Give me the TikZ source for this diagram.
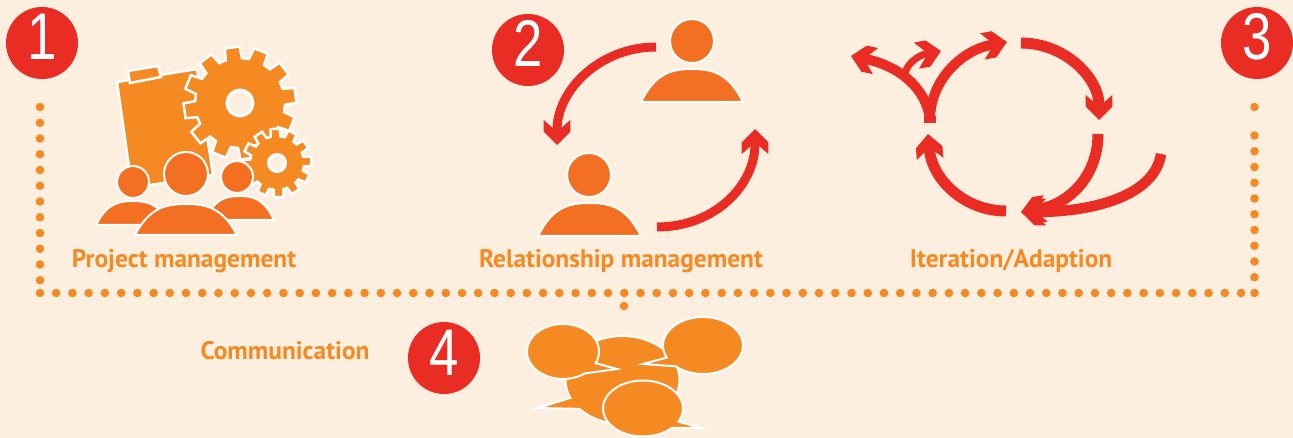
\documentclass[tikz,border=0pt]{standalone}
\usepackage{fontspec}
\setmainfont{PT Sans}
\newfontfamily\numfont[FakeStretch=0.8]{Liberation Sans}
\usetikzlibrary{arrows.meta}
\definecolor{bgc}{HTML}{FDEFE0}
\definecolor{redc}{HTML}{E92D24}
\definecolor{orc}{HTML}{F68A22}
\definecolor{perc}{HTML}{F36F21}
\pgfdeclarearrow{
  name=Chev,
  setup code={\pgfarrowssettipend{0pt}\pgfarrowssetlineend{-15pt}\pgfarrowssetvisualbackend{-25pt}},
  drawing code={
    \pgfpathmoveto{\pgfpoint{0pt}{0pt}}
    \pgfpathlineto{\pgfpoint{-13.3pt}{13.3pt}}
    \pgfpathlineto{\pgfpoint{-25pt}{13.3pt}}
    \pgfpathlineto{\pgfpoint{-16pt}{3pt}}
    \pgfpathlineto{\pgfpoint{-16pt}{-3pt}}
    \pgfpathlineto{\pgfpoint{-25pt}{-13.3pt}}
    \pgfpathlineto{\pgfpoint{-13.3pt}{-13.3pt}}
    \pgfpathclose
    \pgfusepathqfill
  }
}
\tikzset{
  numdisc/.style={circle,fill=redc,minimum size=72pt,inner sep=0pt,text=white,text height=40pt,text depth=6pt,font=\numfont\fontsize{66}{66}\selectfont},
  lab/.style={text=orc,font=\bfseries\fontsize{25.4}{27}\selectfont,inner sep=0pt,anchor=base},
  dots/.style={draw=orc,line width=8.6pt,line cap=round,dash pattern=on 0pt off #1},
  dots/.default=16.23pt,
  rarrow/.style={draw=redc,line width=9pt,-{Chev[scale=1]}},
  carrow/.style={draw=redc,line width=#1,-{Chev[scale=.74]}},
  carrow/.default=11pt,
  plainr/.style={draw=redc,line width=#1},
  icon/.style={fill=orc,draw=white,line width=2.5pt,line join=miter},
  pers/.style={fill=perc,draw=white,line width=2pt},
  hole/.style={fill=bgc,draw=white,line width=3pt},
  bubble/.style={fill=orc,draw=white,line width=2pt,line join=miter},
}
% cx cy router rinner teeth phase
\newcommand\gearshape[6]{%
  \path[icon] ({#1+#3*cos(#6-90/#5)},{#2+#3*sin(#6-90/#5)})
  \foreach \k in {1,...,#5}{
    -- ({#1+#3*cos(#6+(\k-1)*360/#5+90/#5)},{#2+#3*sin(#6+(\k-1)*360/#5+90/#5)})
    -- ({#1+#4*cos(#6+(\k-1)*360/#5+125/#5)},{#2+#4*sin(#6+(\k-1)*360/#5+125/#5)})
    -- ({#1+#4*cos(#6+(\k-1)*360/#5+235/#5)},{#2+#4*sin(#6+(\k-1)*360/#5+235/#5)})
    -- ({#1+#3*cos(#6+(\k-1)*360/#5+270/#5)},{#2+#3*sin(#6+(\k-1)*360/#5+270/#5)})
  } -- cycle;}
% head x, head y, head r, body left, body right, body top, base
\newcommand\personicon[7]{%
  \path[pers] (#1,#2) circle[radius=#3];
  \path[pers] (#4,#7) .. controls ({#4+.14*(#5-#4)},{#6+.12*(#7-#6)}) and ({#4+.3*(#5-#4)},#6) .. ({.5*(#4+#5)},#6)
     .. controls ({#5-.3*(#5-#4)},#6) and ({#5-.14*(#5-#4)},{#6+.12*(#7-#6)}) .. (#5,#7) -- cycle;}
% cx cy rx ry start end tipx tipy
\newcommand\speech[8]{%
  \path[bubble] ({#1+#3*cos(#5)},{#2+#4*sin(#5)})
    \foreach \t in {0,...,72}{ -- ({#1+#3*cos(#5+(#6-#5)/72*\t)},{#2+#4*sin(#5+(#6-#5)/72*\t)}) }
    -- (#7,#8) -- cycle;}
\begin{document}
\begin{tikzpicture}[x=1pt,y=-1pt]
\useasboundingbox[fill=bgc] (0,0) rectangle (1293,438);
% dotted frame
\coordinate (fl) at (40,107);
\coordinate (bl) at (40,293);
\coordinate (br) at (1254.5,293);
\coordinate (fr) at (1254.5,107);
\coordinate (fq) at (1254.5,120.5);
\coordinate (mt) at (624,306);
\coordinate (mb) at (624,324);
\path[dots=15.75pt] (fl) -- (bl);
\path[dots] (bl) -- (br);
\path[dots=15.75pt] (br) -- (fq);
\path[dots=13.5pt] (fr) -- (fq);
\path[dots=18pt] (mt) -- (mb);
% number discs
\node[numdisc] (n1) at (42,43) {1};
\node[numdisc] (n2) at (528,50) {2};
\node[numdisc] (n3) at (1257,43) {3};
\node[numdisc] (n4) at (444,358) {4};
% group 1
\path[icon] (117,82) -- (197,69) -- (213,175) -- (132,188) -- cycle;
\path[icon] (128,71) -- (158,66) -- (161,77) -- (130,83) -- cycle;
\gearshape{240}{103}{56.5}{45}{12}{-8}
\path[hole] (240,103) circle[radius=13];
\gearshape{277}{163}{34.5}{27}{12}{-3}
\path[hole] (277,163) circle[radius=8.5];
\personicon{133}{182}{16}{96}{170}{201}{225}
\personicon{237}{177}{16}{205}{274}{196}{220}
\personicon{186}{174}{22}{135}{237}{204}{235}
\node[lab] (l1) at (184,268) {Project management};
% group 2
\personicon{692}{41}{22}{641}{743}{69}{102}
\personicon{589}{175}{22}{538}{641}{203}{236}
\coordinate (a1s) at (656,47); \coordinate (a1e) at (557,145);
\coordinate (a2s) at (657,227); \coordinate (a2e) at (755,129);
\draw[rarrow] (a1s) .. controls (600,47) and (557,90) .. (a1e);
\draw[rarrow] (a2s) .. controls (715,227) and (755,185) .. (a2e);
\node[lab] (l2) at (621,268) {Relationship management};
% group 3
\coordinate (c0) at (930,120);
\coordinate (c1) at (1007,42);
\coordinate (c2) at (1021,43);
\coordinate (c3) at (1099,120);
\coordinate (c4) at (1098,134);
\coordinate (c5) at (1021,212);
\coordinate (c6) at (1161,154);
\coordinate (c7) at (1006,211);
\coordinate (c8) at (928,134);
\coordinate (c9) at (851,56);
\coordinate (c10) at (905,73);
\coordinate (c11) at (941,51);
\draw[carrow=10pt] (c0) .. controls (930,80) and (962,50) .. (c1);
\draw[carrow=10pt] (c0) .. controls (926,85) and (895,65) .. (c9);
\draw[plainr=7pt,-{Chev[scale=.62]}] (c10) .. controls (908,62) and (920,55) .. (c11);
\draw[plainr=7pt] (924,120) -- (936,120);
\draw[carrow] (c2) .. controls (1065,43) and (1099,78) .. (c3);
\draw[carrow] (c4) .. controls (1098,175) and (1070,205) .. (c5);
\draw[carrow=10.5pt] (c6) .. controls (1155,195) and (1095,212) .. (c5);
\draw[carrow] (c7) .. controls (965,211) and (932,180) .. (c8);
\node[lab] (l3) at (1011,268) {Iteration/Adaption};
% group 4
\node[lab] (l4) at (285,359) {Communication};
\speech{622.5}{380}{57}{44}{156}{499}{538}{408}
\speech{563}{351.5}{36}{27.5}{53}{385}{617}{369}
\speech{703}{345.5}{40}{28.5}{155}{493}{643}{364}
\speech{643}{408.5}{40}{28}{44}{388}{702}{428}
\end{tikzpicture}
\end{document}
